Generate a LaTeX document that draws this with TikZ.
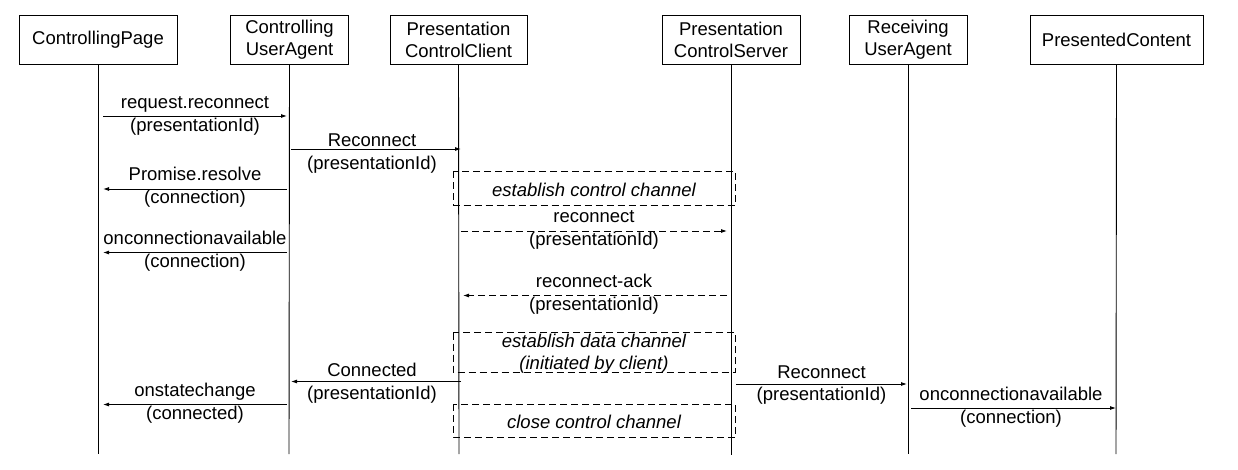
\documentclass[tikz,border=0pt]{standalone}
\usepackage{fontspec}
\setmainfont{Liberation Sans}
\usetikzlibrary{arrows.meta}
\tikzset{
  actor/.style={draw, line width=0.9pt, align=center, inner sep=0pt, minimum height=49pt, font=\fontsize{18.5}{22}\selectfont},
  life/.style={line width=0.9pt},
  msg/.style={line width=0.9pt, -{Latex[length=6pt,width=4pt]}},
  dmsg/.style={msg, dash pattern=on 7pt off 4pt},
  lbl/.style={align=center, inner sep=0pt, font=\fontsize{18.5}{22.5}\selectfont},
  ilbl/.style={lbl, font=\fontsize{18.5}{22}\selectfont\itshape},
  frame/.style={draw, line width=0.9pt, dash pattern=on 7pt off 4pt},
}
\begin{document}
\begin{tikzpicture}[x=1pt,y=-1pt]
\useasboundingbox (0,0) rectangle (1238,470);
% actors
\node[actor, minimum width=158pt] (cp) at (98,39.5) {ControllingPage};
\node[actor, minimum width=118pt] (cua) at (289.5,39.5) {Controlling\\UserAgent};
\node[actor, minimum width=137pt] (pcc) at (458.5,39.5) {Presentation\\ControlClient};
\node[actor, minimum width=138pt] (pcs) at (731,40) {Presentation\\ControlServer};
\node[actor, minimum width=118pt] (rua) at (908,39.5) {Receiving\\UserAgent};
\node[actor, minimum width=173pt] (pc) at (1116.5,39.5) {PresentedContent};
% lifeline ends
\coordinate (cpE) at (98,454);
\coordinate (cuaE) at (289,454);
\coordinate (pccE) at (459,454);
\coordinate (pcsE) at (731,455);
\coordinate (ruaE) at (908,454);
\coordinate (pcE) at (1116,454);
\draw[life] (cp.south) -- (cpE);
\draw[life] (cua.south) -- (cuaE);
\draw[life] (pcc.south) -- (pccE);
\draw[life] (pcs.south) -- (pcsE);
\draw[life] (rua.south) -- (ruaE);
\draw[life] (pc.south) -- (pcE);
% message endpoints
\coordinate (m1a) at (103,116); \coordinate (m1b) at (287,116);
\coordinate (m2a) at (291,149); \coordinate (m2b) at (461,149);
\coordinate (m3a) at (287,189); \coordinate (m3b) at (103,189);
\coordinate (m4a) at (461,231); \coordinate (m4b) at (727,231);
\coordinate (m5a) at (287,252.5); \coordinate (m5b) at (103,252.5);
\coordinate (m6a) at (727,295.5); \coordinate (m6b) at (463,295.5);
\coordinate (m7a) at (461,381.5); \coordinate (m7b) at (291,381.5);
\coordinate (m8a) at (736,384); \coordinate (m8b) at (907,384);
\coordinate (m9a) at (287,404.5); \coordinate (m9b) at (103,404.5);
\coordinate (m10a) at (911,408); \coordinate (m10b) at (1116,408);
\draw[msg] (m1a) -- (m1b);
\draw[msg] (m2a) -- (m2b);
\draw[msg] (m3a) -- (m3b);
\draw[dmsg] (m4a) -- (m4b);
\draw[msg] (m5a) -- (m5b);
\draw[dmsg] (m6a) -- (m6b);
\draw[msg] (m7a) -- (m7b);
\draw[msg] (m8a) -- (m8b);
\draw[msg] (m9a) -- (m9b);
\draw[msg] (m10a) -- (m10b);
% labels
\node[lbl] (l1) at (195,116) {request.reconnect\\(presentationId)};
\node[lbl] (l2) at (372,153.5) {Reconnect\\(presentationId)};
\node[lbl] (l3) at (195,187) {Promise.resolve\\(connection)};
\node[lbl] (l4) at (594,230) {reconnect\\(presentationId)};
\node[lbl] (l5) at (195,251) {onconnectionavailable\\(connection)};
\node[lbl] (l6) at (594,294) {reconnect-ack\\(presentationId)};
\node[lbl] (l7) at (372,383) {Connected\\(presentationId)};
\node[lbl] (l8) at (821.5,385) {Reconnect\\(presentationId)};
\node[lbl] (l9) at (195,403) {onstatechange\\(connected)};
\node[lbl] (l10) at (1011,407) {onconnectionavailable\\(connection)};
% frames
\draw[frame] (453,171.5) rectangle (735.5,205);
\node[ilbl] (f1) at (594,190) {establish control channel};
\draw[frame] (453,332.5) rectangle (735.5,372);
\node[ilbl] (f2) at (594,354) {establish data channel\\(initiated by client)};
\draw[frame] (453,404) rectangle (735.5,437);
\node[ilbl] (f3) at (594,422) {close control channel};
\end{tikzpicture}
\end{document}
